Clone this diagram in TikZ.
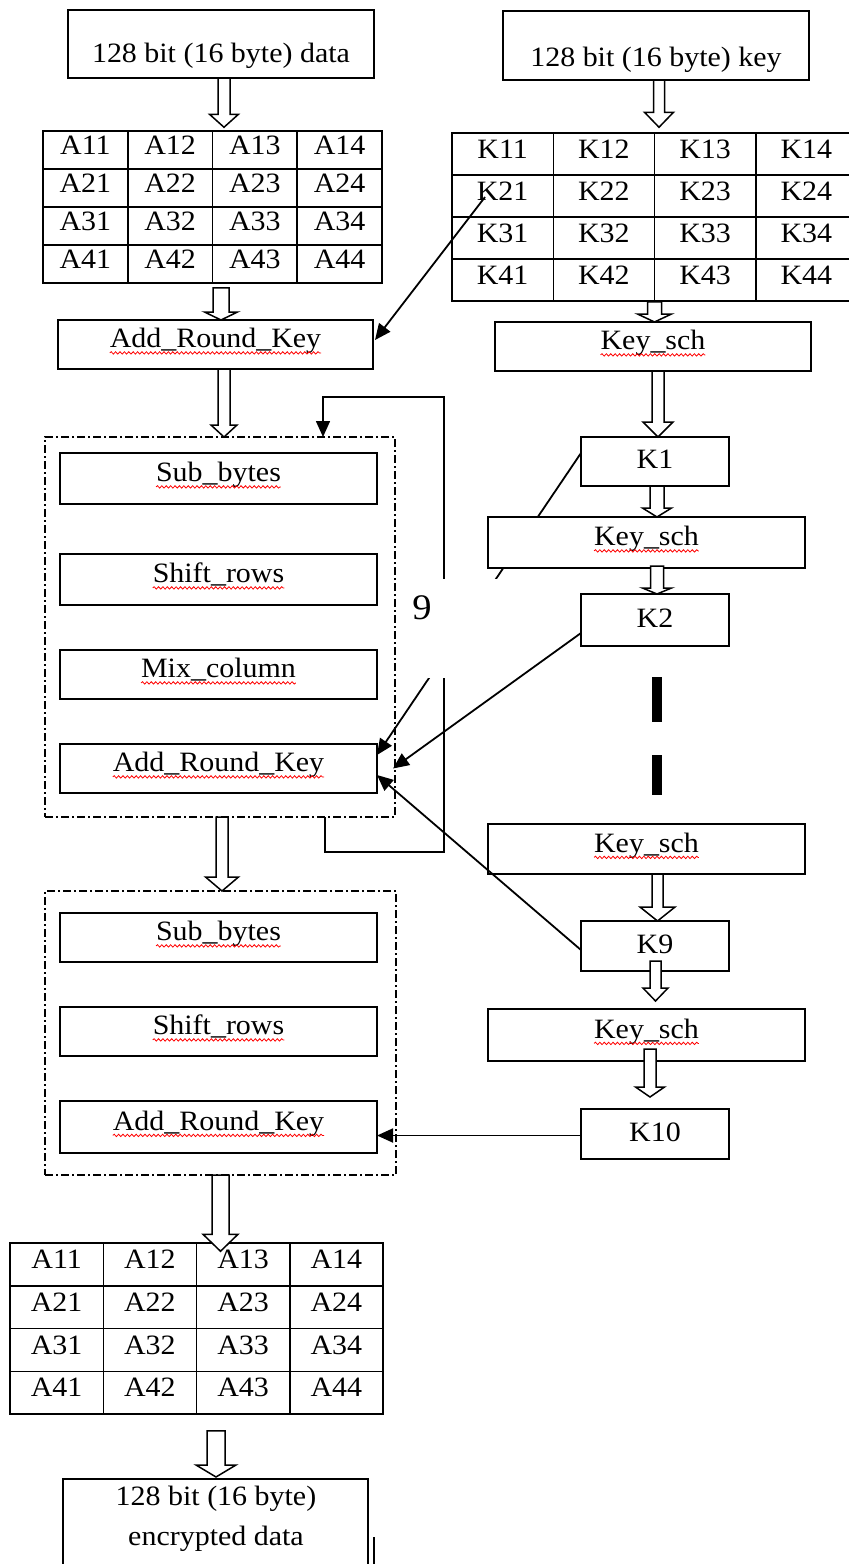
\documentclass[tikz,border=0pt]{standalone}
\usepackage{fontspec}
\setmainfont{Liberation Serif}[FakeStretch=1.07]
\usetikzlibrary{matrix,calc,arrows.meta,decorations.pathmorphing,backgrounds}

\tikzset{
  txt/.style={font=\fontsize{14pt}{16.8pt}\selectfont},
  sz/.style 2 args={minimum width=#1*0.5pt, minimum height=#2*0.5pt},
  box/.style={draw, fill=white, line width=0.75pt, inner sep=0pt, outer sep=0pt,
              txt, text height=8.5pt, text depth=5.1pt},
  kbox/.style={box, text height=9.8pt, text depth=2.5pt},
  cell/.style={draw, line width=0.75pt, inner sep=0pt, txt, text height=9.8pt, text depth=5.6pt},
  group/.style={draw, line width=0.6pt, inner sep=0pt, outer sep=0pt,
                dash pattern=on 4pt off 1.5pt on 1pt off 1.5pt},
  conn/.style={line width=0.9pt, -{Triangle[length=8pt,width=7pt]}},
  squig/.style={red, line width=0.4pt, decorate,
                decoration={snake, amplitude=0.6pt, segment length=2.2pt}},
  % open block arrow: shaft half width, head half width, head length (in px)
  hollow/.style n args={3}{draw, fill=white, line width=0.75pt,
    to path={let \p1=(\tikztostart), \p2=(\tikztotarget) in
      (\x1-#1*0.5pt,\y1) -- (\x1-#1*0.5pt,\y2+#3*0.5pt) -- (\x1-#2*0.5pt,\y2+#3*0.5pt)
      -- (\x1,\y2) -- (\x1+#2*0.5pt,\y2+#3*0.5pt) -- (\x1+#1*0.5pt,\y2+#3*0.5pt)
      -- (\x1+#1*0.5pt,\y1) -- cycle}},
}

% word with a wavy red underline
\newcommand{\redwave}[1]{\tikz[baseline=(w.base)]{%
  \node[inner sep=0pt, outer sep=0pt, minimum width=0pt, minimum height=0pt,
        text height={}, text depth={}, draw=none, fill=none, rectangle, anchor=base] (w) {#1};%
  \draw[squig] ([yshift=-2.5pt]w.base west) -- ([yshift=-2.5pt]w.base east);}}

\begin{document}
\begin{tikzpicture}[x=0.5pt,y=-0.5pt]
\useasboundingbox (0,0) rectangle (849,1564);
\clip (0,0) rectangle (849,1564);

% inputs
\node[box, sz={306}{68}, text height=19.6pt, text depth=1.4pt] (din) at (221,44) {128 bit (16 byte) data};
\node[box, sz={306}{69}, text height=22.4pt, text depth=1.1pt] (kin) at (656,45.5) {128 bit (16 byte) key};

% state and key matrices
\matrix (ga) [matrix of nodes, inner sep=0pt, outer sep=0pt, nodes={cell, sz={84.75}{38}},
  column sep=-0.75pt, row sep=-0.75pt] at (212.5,207) {
  A11 & A12 & A13 & A14\\
  A21 & A22 & A23 & A24\\
  A31 & A32 & A33 & A34\\
  A41 & A42 & A43 & A44\\};
\matrix (gk) [matrix of nodes, inner sep=0pt, outer sep=0pt, nodes={cell, sz={101.25}{42}},
  column sep=-0.75pt, row sep=-0.75pt] at (654.5,217) {
  K11 & K12 & K13 & K14\\
  K21 & K22 & K23 & K24\\
  K31 & K32 & K33 & K34\\
  K41 & K42 & K43 & K44\\};

% initial round
\node[box, sz={315}{49}] (ark0) at (215.5,344.5) {\redwave{Add\_Round\_Key}};
\node[box, sz={316}{49}] (ks1) at (653,346.5) {\redwave{Key\_sch}};

% nine main rounds
\node[group, sz={350}{380}] (rnd) at (220,627) {};
\node[box, sz={317}{51}] (sb1) at (218.5,478.5) {\redwave{Sub\_bytes}};
\node[box, sz={317}{51}] (sr1) at (218.5,579.5) {\redwave{Shift\_rows}};
\node[box, sz={317}{49}] (mc1) at (218.5,674.5) {\redwave{Mix\_column}};
\node[box, sz={317}{49}] (ark1) at (218.5,768.5) {\redwave{Add\_Round\_Key}};

% key schedule column
\node[kbox, sz={148}{49}] (k1) at (655,461.5) {K1};
\node[box, sz={317}{51}] (ks2) at (646.5,542.5) {\redwave{Key\_sch}};
\node[kbox, sz={148}{52}] (k2) at (655,620) {K2};
\node[box, sz={317}{50}] (ks3) at (646.5,849) {\redwave{Key\_sch}};
\node[kbox, sz={148}{50}] (k9) at (655,946) {K9};
\node[box, sz={317}{52}] (ks4) at (646.5,1035) {\redwave{Key\_sch}};
\node[kbox, sz={148}{50}] (k10) at (655,1134) {K10};

% final round
\node[group, sz={351}{284}] (fin) at (220.5,1033) {};
\node[box, sz={317}{49}] (sb2) at (218.5,937.5) {\redwave{Sub\_bytes}};
\node[box, sz={317}{49}] (sr2) at (218.5,1031.5) {\redwave{Shift\_rows}};
\node[box, sz={317}{52}] (ark2) at (218.5,1127) {\redwave{Add\_Round\_Key}};

% output
\matrix (gb) [matrix of nodes, inner sep=0pt, outer sep=0pt, nodes={cell, sz={93.25}{42.75}},
  column sep=-0.75pt, row sep=-0.75pt] at (196.5,1328.5) {
  A11 & A12 & A13 & A14\\
  A21 & A22 & A23 & A24\\
  A31 & A32 & A33 & A34\\
  A41 & A42 & A43 & A44\\};
\node[box, sz={305}{130}] (enc) at (215.5,1544) {};
\node[inner sep=0pt, align=center, anchor=north, font=\fontsize{14pt}{20pt}\selectfont]
  (enctxt) at (216,1485.5) {128 bit (16 byte)\\encrypted data};
\draw[line width=0.6pt] (374,1537) -- (374,1570);

% round loop and the K1 feed, partly hidden
\coordinate (looptop) at (444,397);
\begin{pgfonlayer}{background}
  \draw[conn] ([yshift=4.25pt]k1.west) -- ([yshift=6.75pt]ark1.east);
  \draw[conn, line width=0.75pt] ([xshift=52.5pt]rnd.south) -- ++(0,35) -| (looptop)
    -| ([xshift=51.5pt]rnd.north);
  \fill[white] (400,579) rectangle (522,678);
\end{pgfonlayer}
\node[inner sep=0pt, font=\fontsize{18pt}{20pt}\selectfont] (nine) at (422,607.5) {9};

% round keys into Add_Round_Key
\draw[conn] ([xshift=-8.8pt,yshift=-0.5pt]gk-2-1.center) -- ([xshift=1pt,yshift=2.25pt]ark0.east);
\draw[conn] ([yshift=-6.5pt]k2.west) -- ([xshift=8pt]ark1.east);
\draw[conn] ([yshift=-2pt]k9.west) -- ([yshift=-3.25pt]ark1.east);
\coordinate (k10l) at ([yshift=-0.75pt]k10.west);
\draw[conn] (k10l) -- (k10l -| ark2.east);

% elided key schedule rounds
\coordinate (gapTop) at ([xshift=1pt,yshift=-15.5pt]k2.south);
\coordinate (gapBot) at ([yshift=14.5pt]ks3.north);
\draw[line width=5pt, dash pattern=on 22.5pt off 16.5pt on 20pt off 30pt]
  (gapTop) -- (gapTop |- gapBot);

% block arrows
\draw[hollow={6}{14.5}{13}] ([xshift=1.5pt]din.south) to ([yshift=1.5pt]ga.north);
\draw[hollow={5.5}{14.5}{15}] ([xshift=1.5pt]kin.south) to ([yshift=2.5pt]gk.north);
\draw[hollow={8}{16.5}{8}] ([xshift=4.25pt,yshift=-2pt]ga.south) to (ark0.north);
\draw[hollow={7}{17}{8}] (gk.south) to (ks1.north);
\draw[hollow={6}{13}{12}] ([xshift=4.25pt]ark0.south) to (rnd.north);
\draw[hollow={6}{15}{15}] ([xshift=2.5pt]ks1.south) to (k1.north);
\draw[hollow={7}{14.5}{9}] ([xshift=1pt]k1.south) to (ks2.north);
\draw[hollow={6.5}{14.5}{6}] ([xshift=5.25pt,yshift=1pt]ks2.south) to (k2.north);
\draw[hollow={6}{16.5}{14}] ([xshift=1pt]rnd.south) to (fin.north);
\draw[hollow={5.5}{17.5}{14}] ([xshift=5.5pt]ks3.south) to (k9.north);
\draw[hollow={5.5}{12.5}{13}] ([xshift=0.25pt,yshift=5pt]k9.south) to ([yshift=4pt]ks4.north);
\draw[hollow={6}{14.5}{10}] ([xshift=1.75pt,yshift=6pt]ks4.south) to ([yshift=6pt]k10.north);
\draw[hollow={8.5}{17.5}{17}] (fin.south) to ([yshift=-4.5pt]gb.north);
\draw[hollow={9}{20}{12}] ([xshift=9.75pt,yshift=-8pt]gb.south) to ([yshift=1pt]enc.north);
\end{tikzpicture}
\end{document}
